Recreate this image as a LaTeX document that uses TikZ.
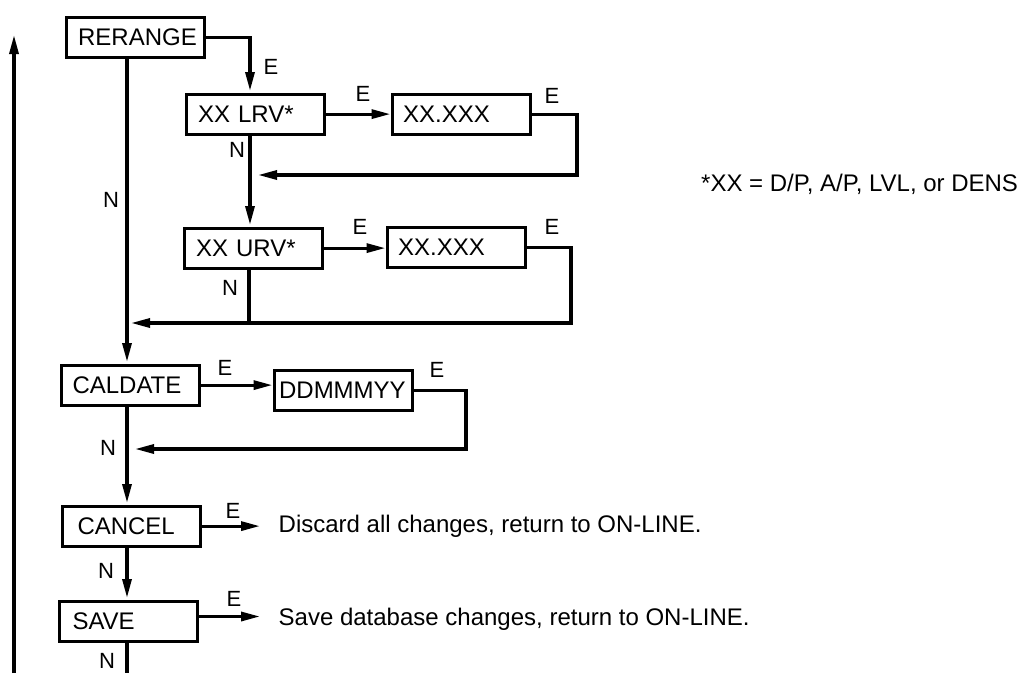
\documentclass[tikz,border=0pt]{standalone}
\usepackage{fontspec}
\setmainfont{Liberation Sans}
\usetikzlibrary{arrows.meta}
\begin{document}
\begin{tikzpicture}[x=1pt,y=-1pt,
  every node/.style={font=\fontsize{24}{28}\selectfont},
  box/.style={draw, line width=3.2pt, anchor=north west, inner xsep=0pt, inner ysep=0pt,
    text width=138pt, minimum height=40pt, align=left, text height=17.2pt, text depth=0pt},
  lbl/.style={font=\fontsize{22}{26}\selectfont, inner sep=0pt, text height=15.75pt, text depth=0pt},
  desc/.style={anchor=west, inner xsep=18.5pt, inner ysep=0pt, text height=17.2pt, text depth=0pt},
  arr/.style={line width=3.2pt, -{Triangle[length=19pt,width=9pt]}},
  ln/.style={line width=3.2pt}]
\useasboundingbox (0,0) rectangle (1021,673);

% boxes
\node[box] (rerange) at (64.5,15.5) {\hspace*{12pt}RERANGE};
\node[box] (lrv) at (184.5,92.5) {\hspace*{12pt}XX LRV*};
\node[box] (x1) at (390.5,92.5) {\hspace*{11pt}XX.XXX};
\node[box] (urv) at (182.5,226.5) {\hspace*{12pt}XX URV*};
\node[box] (x2) at (385.5,225.5) {\hspace*{11pt}XX.XXX};
\node[box] (cal) at (59.5,363.5) {\hspace*{11.4pt}CALDATE};
\node[box] (dd) at (272.5,368.5) {\hspace*{5pt}DDMMMYY};
\node[box] (cancel) at (60.5,504.5) {\hspace*{15.4pt}CANCEL};
\node[box] (save) at (57.5,599.5) {\hspace*{13.4pt}SAVE};

% descriptions
\node[desc] (discard) at (260,524) {Discard all changes, return to ON-LINE.};
\node[desc] (savetxt) at (260,616.5) {Save database changes, return to ON-LINE.};
\node[anchor=west, inner sep=0pt, text height=17.2pt, text depth=0pt] (note) at (701,183) {*XX = D/P, A/P, LVL, or DENS};

% coordinates
\coordinate (lb) at (14,673);
\coordinate (lt) at (14,35);
\coordinate (lrvin) at (250,91);
\coordinate (caltop) at (127,362);
\coordinate (r1) at (577,175);
\coordinate (r1e) at (258,175);
\coordinate (urvin) at (250,225);
\coordinate (r2) at (571,323);
\coordinate (r2e) at (131,323);
\coordinate (urvj) at (249,323);
\coordinate (r3) at (466,449);
\coordinate (r3e) at (135,449);
\coordinate (cantop) at (127,503);
\coordinate (savetop) at (127,598);
\coordinate (bot) at (127,673);

% connectors
\draw[arr] (lb) -- (lt);
\draw[arr] (rerange.east) -| (lrvin);
\draw[arr] (rerange.south -| caltop) -- (caltop);
\draw[arr] (lrv.east) -- (lrv.east -| x1.west);
\draw[arr] (x1.east) -| (r1) -- (r1e);
\draw[arr] (lrv.south -| urvin) -- (urvin);
\draw[arr] (urv.east) -- (urv.east -| x2.west);
\draw[arr] (x2.east) -| (r2) -- (r2e);
\draw[ln] (urv.south -| urvj) -- (urvj);
\draw[arr] (cal.east) -- (cal.east -| dd.west);
\draw[arr] (dd.east) -| (r3) -- (r3e);
\draw[arr] (cal.south -| cantop) -- (cantop);
\draw[arr] (cancel.south -| savetop) -- (savetop);
\draw[ln] (save.south -| bot) -- (bot);
\draw[arr] (cancel.east) -- (cancel.east -| discard.west);
\draw[arr] (save.east |- savetxt.west) -- (savetxt.west);

% labels
\node[lbl] (e1) at (271,67) {E};
\node[lbl] (n1) at (111,200) {N};
\node[lbl] (n2) at (237,150) {N};
\node[lbl] (e2) at (363,94) {E};
\node[lbl] (e3) at (552,96) {E};
\node[lbl] (e4) at (360,227) {E};
\node[lbl] (e5) at (552,227) {E};
\node[lbl] (n3) at (230,288) {N};
\node[lbl] (e6) at (225,368) {E};
\node[lbl] (e7) at (437,370) {E};
\node[lbl] (n4) at (108,448) {N};
\node[lbl] (e8) at (233,511) {E};
\node[lbl] (n5) at (106,571) {N};
\node[lbl] (e9) at (234,599) {E};
\node[lbl] (n6) at (107,661) {N};
\end{tikzpicture}
\end{document}
